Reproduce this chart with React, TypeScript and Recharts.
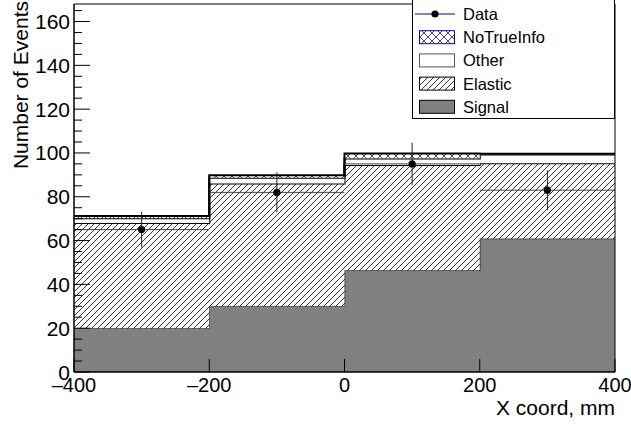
import React from 'react';
import { ComposedChart, Area, Scatter, ErrorBar, XAxis, YAxis, ReferenceArea, Legend } from 'recharts';

// bin edges of the histogram; the last edge repeats the last bin so the step closes
const binEdges = [-400, -200, 0, 200, 400];
const signalCounts = [20, 30, 46.5, 61];
const elasticCounts = [48, 56, 48, 34.3];
const otherCounts = [2.2, 2.7, 3, 4];
const noTrueInfoCounts = [1, 1.1, 2.3, 0.3];

// measured data points
const dataCenters = [-300, -100, 100, 300];
const dataCounts = [65, 82, 95, 83];
const dataErrors = [8.1, 9.1, 9.7, 9.1];
const binHalfWidth = 100;

const xTicks = [-400, -200, 0, 200, 400];
const yTicks = [0, 5, 10, 15, 20, 25, 30, 35, 40, 45, 50, 55, 60, 65, 70, 75, 80, 85, 90, 95, 100, 105, 110, 115, 120, 125, 130, 135, 140, 145, 150, 155, 160, 165];
const yMax = 168;

const legendItems = [
  { name: 'Data', kind: 'marker' },
  { name: 'NoTrueInfo', kind: 'cross' },
  { name: 'Other', kind: 'white' },
  { name: 'Elastic', kind: 'hatch' },
  { name: 'Signal', kind: 'solid' },
];

const FONT = '"Liberation Sans", Arial, Helvetica, sans-serif';

const histRows = binEdges.map((x, i) => {
  const k = Math.min(i, signalCounts.length - 1);
  return {
    x,
    signal: signalCounts[k],
    elastic: elasticCounts[k],
    other: otherCounts[k],
    noTrueInfo: noTrueInfoCounts[k],
  };
});

const dataPoints = dataCenters.map((x, i) => ({
  x,
  y: dataCounts[i],
  ex: binHalfWidth,
  ey: dataErrors[i],
}));

const Patterns = ({ prefix }: { prefix: string }) => (
  <defs>
    <pattern id={`${prefix}-hatch`} patternUnits="userSpaceOnUse" width={6} height={6}>
      <rect width={6} height={6} fill="#fff" />
      <path d="M0,6 L6,0 M-1.5,1.5 L1.5,-1.5 M4.5,7.5 L7.5,4.5" stroke="#000" strokeWidth={0.8} />
    </pattern>
    <pattern id={`${prefix}-cross`} patternUnits="userSpaceOnUse" width={8} height={8}>
      <rect width={8} height={8} fill="#fff" />
      <path d="M0,8 L8,0 M0,0 L8,8" stroke="#1a1a4a" strokeWidth={0.8} />
    </pattern>
  </defs>
);

const YTick = (props: any) => {
  const { x, y, payload } = props;
  const v = payload.value;
  const major = v % 20 === 0;
  const ax = x + 4;
  return (
    <g>
      <line x1={ax} x2={ax + (major ? 16 : 8)} y1={y} y2={y} stroke="#000" strokeWidth={1} />
      {major && (
        <text x={x} y={y} dy={7.5} textAnchor="end" fontFamily={FONT} fontSize={21} fill="#000">
          {v}
        </text>
      )}
    </g>
  );
};

const XTick = (props: any) => {
  const { x, y, payload } = props;
  const ay = y - 5;
  const label = String(payload.value).replace('-', '\u2013');
  return (
    <g>
      <line x1={x} x2={x} y1={ay} y2={ay - 13} stroke="#000" strokeWidth={1} />
      <text x={x} y={y} dy={15} textAnchor="middle" fontFamily={FONT} fontSize={20} fill="#000">
        {label}
      </text>
    </g>
  );
};

const YTitle = (props: any) => {
  const { viewBox } = props;
  const tx = viewBox.x + 28;
  const ty = viewBox.y - 3;
  return (
    <text x={tx} y={ty} transform={`rotate(-90, ${tx}, ${ty})`} textAnchor="end" fontFamily={FONT} fontSize={21} fill="#000">
      Number of Events
    </text>
  );
};

const XTitle = (props: any) => {
  const { viewBox } = props;
  return (
    <text x={viewBox.x + viewBox.width} y={viewBox.y + 43} textAnchor="end" fontFamily={FONT} fontSize={21} fill="#000">
      X coord, mm
    </text>
  );
};

const LegendBox = () => {
  const w = 203;
  const h = 122;
  return (
    <svg width={w} height={h} style={{ display: 'block' }}>
      <Patterns prefix="leg" />
      <rect x={0.5} y={0.5} width={w - 1} height={h - 1} fill="#fff" stroke="#000" strokeWidth={1} />
      {legendItems.map((item, i) => {
        const cy = 17 + i * 23.2;
        let sym: React.ReactNode = null;
        if (item.kind === 'marker') {
          sym = (
            <g>
              <line x1={3} x2={43} y1={cy} y2={cy} stroke="#0000cc" strokeWidth={1} />
              <circle cx={23} cy={cy} r={3.6} fill="#000" />
            </g>
          );
        } else {
          const fill =
            item.kind === 'cross' ? 'url(#leg-cross)' : item.kind === 'hatch' ? 'url(#leg-hatch)' : item.kind === 'solid' ? '#808080' : '#fff';
          const stroke = item.kind === 'cross' ? '#0000cc' : item.kind === 'white' ? '#555' : '#000';
          sym = <rect x={7.5} y={cy - 6.5} width={35} height={13} fill={fill} stroke={stroke} strokeWidth={1} />;
        }
        return (
          <g key={item.name}>
            {sym}
            <text x={51} y={cy} dy={6} fontFamily={FONT} fontSize={16.5} fill="#000">
              {item.name}
            </text>
          </g>
        );
      })}
    </svg>
  );
};

export default function App() {
  return (
    <div style={{ position: 'absolute', left: 0, top: 0, width: 631, height: 426, background: '#fff' }}>
      <ComposedChart width={631} height={426} data={histRows} margin={{ top: 4, right: 16, bottom: 0, left: 0 }}>
        <Patterns prefix="plot" />
        <Area
          type="stepAfter"
          dataKey="signal"
          stackId="mc"
          stroke="#333"
          strokeWidth={1.5}
          fill="#808080"
          fillOpacity={1}
          dot={false}
          activeDot={false}
          isAnimationActive={false}
        />
        <Area
          type="stepAfter"
          dataKey="elastic"
          stackId="mc"
          stroke="#000"
          strokeWidth={2}
          fill="url(#plot-hatch)"
          fillOpacity={1}
          dot={false}
          activeDot={false}
          isAnimationActive={false}
        />
        <Area
          type="stepAfter"
          dataKey="other"
          stackId="mc"
          stroke="#000"
          strokeWidth={2}
          fill="#fff"
          fillOpacity={1}
          dot={false}
          activeDot={false}
          isAnimationActive={false}
        />
        <Area
          type="stepAfter"
          dataKey="noTrueInfo"
          stackId="mc"
          stroke="#000"
          strokeWidth={2}
          fill="url(#plot-cross)"
          fillOpacity={1}
          dot={false}
          activeDot={false}
          isAnimationActive={false}
        />
        <Scatter
          data={dataPoints}
          dataKey="y"
          fill="#000"
          isAnimationActive={false}
          shape={(p: any) => <circle cx={p.cx} cy={p.cy} r={3.6} fill="#000" />}
        >
          <ErrorBar dataKey="ex" direction="x" width={0} stroke="#444" strokeWidth={1} />
          <ErrorBar dataKey="ey" direction="y" width={0} stroke="#222" strokeWidth={1} />
        </Scatter>
        <ReferenceArea x1={-400} x2={400} y1={0} y2={yMax} fill="none" stroke="#000" strokeWidth={1} ifOverflow="visible" />
        <XAxis
          dataKey="x"
          type="number"
          domain={[-400, 400]}
          ticks={xTicks}
          interval={0}
          height={54}
          tickSize={0}
          tickMargin={5}
          tick={<XTick />}
          axisLine={{ stroke: '#000', strokeWidth: 1 }}
          allowDataOverflow
          label={<XTitle />}
        />
        <YAxis
          type="number"
          domain={[0, yMax]}
          ticks={yTicks}
          interval={0}
          width={74}
          tickSize={0}
          tickMargin={4}
          tick={<YTick />}
          axisLine={{ stroke: '#000', strokeWidth: 1 }}
          allowDataOverflow
          label={<YTitle />}
        />
        <Legend
          layout="vertical"
          align="center"
          verticalAlign="middle"
          content={() => <LegendBox />}
          wrapperStyle={{ left: 412, top: -3, width: 203, height: 122 }}
        />
      </ComposedChart>
    </div>
  );
}
